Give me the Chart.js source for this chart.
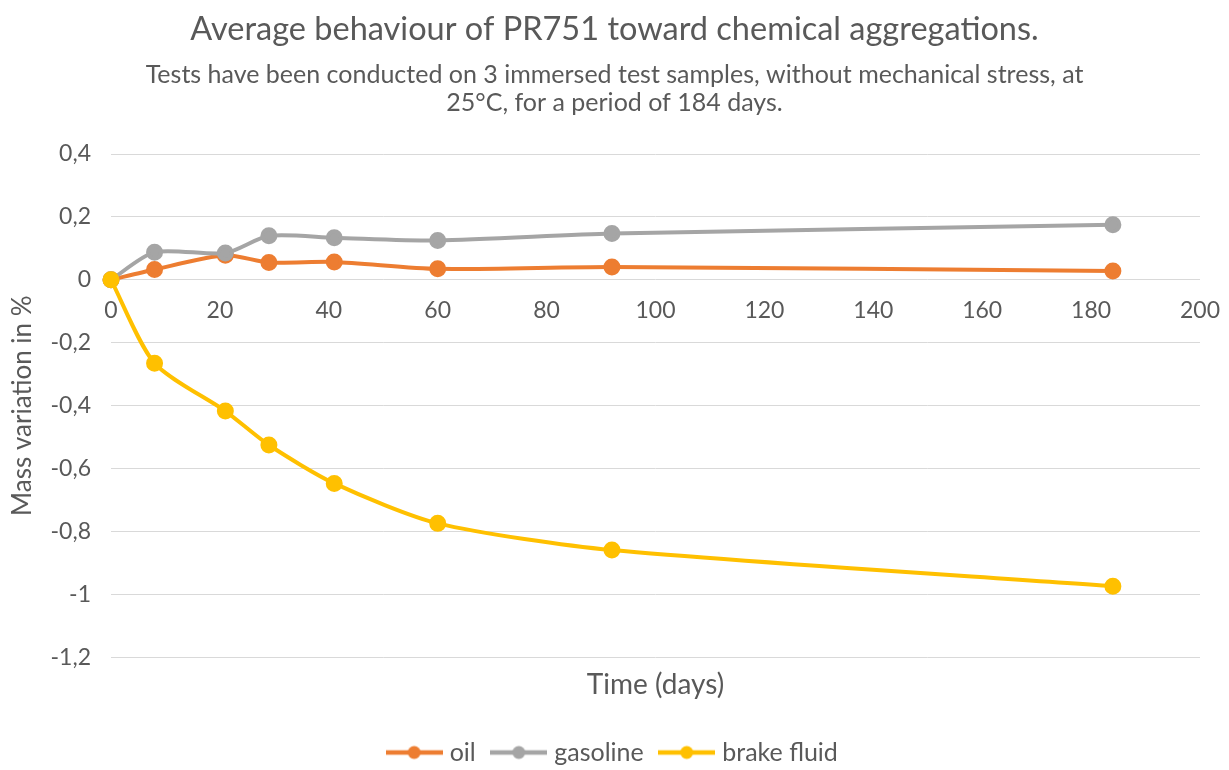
<!DOCTYPE html>
<html>
<head>
<meta charset="utf-8">
<script src="https://cdn.jsdelivr.net/npm/chart.js@4"></script>
<style>
  html, body { margin: 0; padding: 0; background: #fff; }
  #wrap { width: 1229px; height: 770px; }
</style>
</head>
<body>
<div id="wrap"><canvas id="chart"></canvas></div>
<script>
// days of immersion
const days = [0, 8, 21, 29, 41, 60, 92, 184];
// mass variation in %
const oil = [0, 0.033, 0.078, 0.055, 0.057, 0.035, 0.041, 0.028];
const gasoline = [0, 0.088, 0.085, 0.14, 0.134, 0.125, 0.147, 0.175];
const brakeFluid = [0, -0.265, -0.417, -0.525, -0.647, -0.774, -0.859, -0.974];

const seriesNames = ["oil", "gasoline", "brake fluid"];
const seriesColors = ["#ED7D31", "#A5A5A5", "#FFC000"];

const titleText = "Average behaviour of PR751 toward chemical aggregations.";
const subtitleLines = [
  "Tests have been conducted on 3 immersed test samples, without mechanical stress, at",
  "25°C, for a period of 184 days."
];

const textColor = "#595959";
const fontFamily = "Lato, 'Open Sans', sans-serif";

// {x,y} points from the arrays
function toPoints(values) {
  return days.map((d, i) => ({ x: d, y: values[i] }));
}

// excel-like legend symbol : line with a dot in the middle
function legendSymbol(color) {
  const c = document.createElement("canvas");
  c.width = 57;
  c.height = 16;
  const ctx = c.getContext("2d");
  ctx.strokeStyle = color;
  ctx.lineWidth = 4.5;
  ctx.beginPath();
  ctx.moveTo(0, 8);
  ctx.lineTo(57, 8);
  ctx.stroke();
  ctx.fillStyle = color;
  ctx.beginPath();
  ctx.arc(28.5, 8, 6.5, 0, Math.PI * 2);
  ctx.fill();
  return c;
}

const allValues = [oil, gasoline, brakeFluid];

const datasets = allValues.map((vals, i) => ({
  label: seriesNames[i],
  data: toPoints(vals),
  borderColor: seriesColors[i],
  backgroundColor: seriesColors[i],
  pointBackgroundColor: seriesColors[i],
  pointBorderColor: seriesColors[i],
  pointRadius: 6.5,
  pointStyle: "circle",
  borderWidth: 4,
  tension: 0.25,
  clip: false,
  // last series on top like excel
  order: allValues.length - i
}));

const symbols = seriesColors.map(legendSymbol);

function fmtTick(v) {
  return String(Math.round(v * 10) / 10).replace(".", ",");
}

new Chart(document.getElementById("chart"), {
  type: "line",
  data: { datasets: datasets },
  options: {
    responsive: true,
    maintainAspectRatio: false,
    animation: false,
    layout: { padding: { top: 0, right: 0, bottom: -5, left: 0 } },
    plugins: {
      title: {
        display: true,
        text: titleText,
        color: textColor,
        font: { family: fontFamily, size: 32.5, weight: "normal" },
        padding: { top: 10, bottom: 0 }
      },
      subtitle: {
        display: true,
        text: subtitleLines,
        color: textColor,
        font: { family: fontFamily, size: 25, weight: "normal", lineHeight: 1.12 },
        padding: { top: 12, bottom: 37 }
      },
      legend: {
        position: "bottom",
        labels: {
          color: textColor,
          font: { family: fontFamily, size: 25 },
          usePointStyle: true,
          pointStyleWidth: 46,
          padding: 20,
          sort: (a, b) => a.datasetIndex - b.datasetIndex,
          generateLabels: (chart) => chart.data.datasets.map((ds, i) => ({
            text: ds.label,
            fontColor: textColor,
            pointStyle: symbols[i],
            datasetIndex: i,
            hidden: false,
            lineWidth: 0
          }))
        }
      },
      tooltip: { enabled: false }
    },
    scales: {
      x: {
        type: "linear",
        min: 0,
        max: 200,
        position: { y: 0 },
        ticks: {
          stepSize: 20,
          color: textColor,
          font: { family: fontFamily, size: 23 },
          padding: 17
        },
        grid: { display: false, drawTicks: false },
        border: { display: false },
        // keep the plot right edge where the original has it
        afterFit: (scale) => { scale.paddingLeft = 0; scale.paddingRight = 29; }
      },
      xTitle: {
        type: "linear",
        axis: "x",
        position: "bottom",
        min: 0,
        max: 200,
        ticks: { display: false },
        grid: { display: false, drawTicks: false },
        border: { display: false },
        title: {
          display: true,
          text: "Time (days)",
          color: textColor,
          font: { family: fontFamily, size: 28 },
          padding: { top: 11, bottom: 18 }
        }
      },
      y: {
        type: "linear",
        min: -1.2,
        max: 0.4,
        ticks: {
          stepSize: 0.2,
          color: textColor,
          font: { family: fontFamily, size: 23 },
          padding: 20,
          callback: (v) => fmtTick(v)
        },
        grid: { color: "#d9d9d9", lineWidth: 1, drawTicks: false },
        border: { display: false },
        title: {
          display: true,
          text: "Mass variation in %",
          color: textColor,
          font: { family: fontFamily, size: 26 },
          padding: { top: 7, bottom: 0 }
        },
        afterFit: (scale) => { scale.width = 111; }
      }
    }
  }
});
</script>
</body>
</html>
